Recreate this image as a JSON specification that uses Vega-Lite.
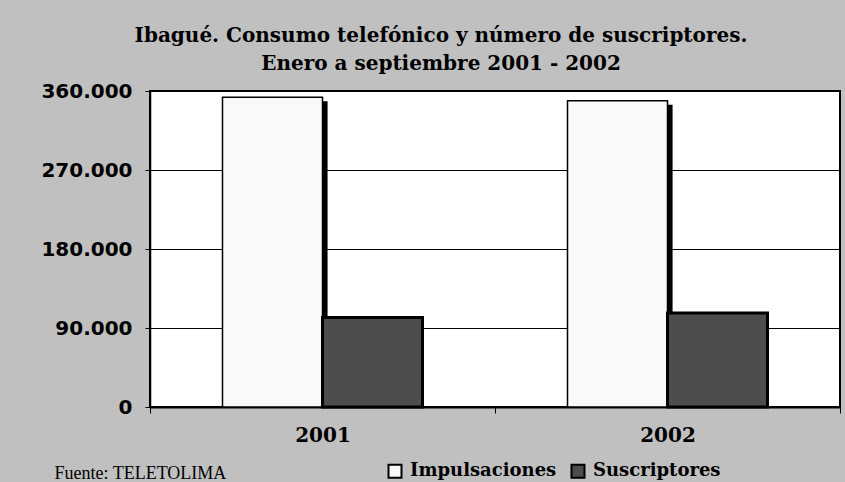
{
  "$schema": "https://vega.github.io/schema/vega-lite/v6.json",
  "width": 690,
  "height": 316,
  "autosize": {"type": "none"},
  "padding": {"left": 150, "top": 91, "right": 5, "bottom": 75},
  "background": "#c0c0c0",
  "config": {
    "view": {"stroke": "#000", "strokeWidth": 2, "fill": "#ffffff"}
  },
  "title": {
    "text": ["Ibagué. Consumo telefónico y número de suscriptores.", "Enero a septiembre 2001 - 2002"],
    "font": "DejaVu Serif",
    "fontSize": 20,
    "fontWeight": "bold",
    "color": "#000",
    "anchor": "middle",
    "frame": "group",
    "dx": -54,
    "lineHeight": 28,
    "offset": 7
  },
  "data": {
    "values": [
      {"anio": "2001", "serie": "Impulsaciones", "valor": 353000},
      {"anio": "2001", "serie": "Suscriptores", "valor": 102000},
      {"anio": "2002", "serie": "Impulsaciones", "valor": 349000},
      {"anio": "2002", "serie": "Suscriptores", "valor": 107000}
    ]
  },
  "encoding": {
    "x": {
      "field": "anio",
      "type": "nominal",
      "scale": {"paddingInner": 0, "paddingOuter": 0},
      "axis": {
        "title": "Fuente: TELETOLIMA",
        "titleFont": "Liberation Serif",
        "titleFontWeight": "normal",
        "titleFontSize": 18,
        "titleColor": "#000",
        "titleAnchor": "start",
        "titleAlign": "left",
        "titleBaseline": "alphabetic",
        "titleX": -96,
        "titleY": 71,
        "labelAngle": 0,
        "labelFont": "DejaVu Serif",
        "labelFontWeight": "bold",
        "labelFontSize": 20,
        "labelColor": "#000",
        "labelPadding": 12,
        "tickBand": "extent",
        "tickColor": "#000",
        "tickSize": 6,
        "domainColor": "#000",
        "domainWidth": 2,
        "grid": false
      }
    },
    "y": {
      "field": "valor",
      "type": "quantitative",
      "scale": {"domain": [0, 360000], "nice": false},
      "axis": {
        "title": null,
        "values": [0, 90000, 180000, 270000, 360000],
        "labelExpr": "replace(format(datum.value, ','), ',', '.')",
        "labelFont": "DejaVu Sans",
        "labelFontWeight": "bold",
        "labelFontSize": 20,
        "labelColor": "#000",
        "labelPadding": 13,
        "tickSize": 5,
        "tickColor": "#000",
        "domainColor": "#000",
        "domainWidth": 1.5,
        "gridColor": "#000",
        "gridWidth": 1,
        "gridOpacity": 1
      }
    }
  },
  "layer": [
    {
      "transform": [{"filter": "datum.serie === 'Impulsaciones'"}],
      "mark": {"type": "bar", "fill": "#000", "yOffset": 4, "clip": true},
      "encoding": {
        "xOffset": {
          "field": "serie",
          "type": "nominal",
          "scale": {"domain": ["Impulsaciones", "Suscriptores"], "paddingInner": 0, "paddingOuter": 0.725, "align": 0.535}
        }
      }
    },
    {
      "mark": {"type": "bar", "stroke": "#000"},
      "encoding": {
        "xOffset": {
          "field": "serie",
          "type": "nominal",
          "scale": {"domain": ["Impulsaciones", "Suscriptores"], "paddingInner": 0, "paddingOuter": 0.725}
        },
        "color": {
          "field": "serie",
          "type": "nominal",
          "scale": {"domain": ["Impulsaciones", "Suscriptores"], "range": ["#f9f9f9", "#4d4d4d"]},
          "legend": {
            "orient": "none",
            "legendX": 236,
            "legendY": 371,
            "direction": "horizontal",
            "title": null,
            "labelFont": "DejaVu Serif",
            "labelFontWeight": "bold",
            "labelFontSize": 18,
            "labelColor": "#000",
            "symbolType": "square",
            "symbolSize": 169,
            "symbolStrokeColor": "#000",
            "symbolStrokeWidth": 2,
            "symbolOpacity": 1,
            "labelOffset": 6,
            "columnPadding": 10
          }
        },
        "strokeWidth": {
          "condition": {"test": "datum.serie === 'Suscriptores'", "value": 3},
          "value": 1.5
        }
      }
    }
  ],
  "resolve": {"scale": {"xOffset": "independent"}}
}
